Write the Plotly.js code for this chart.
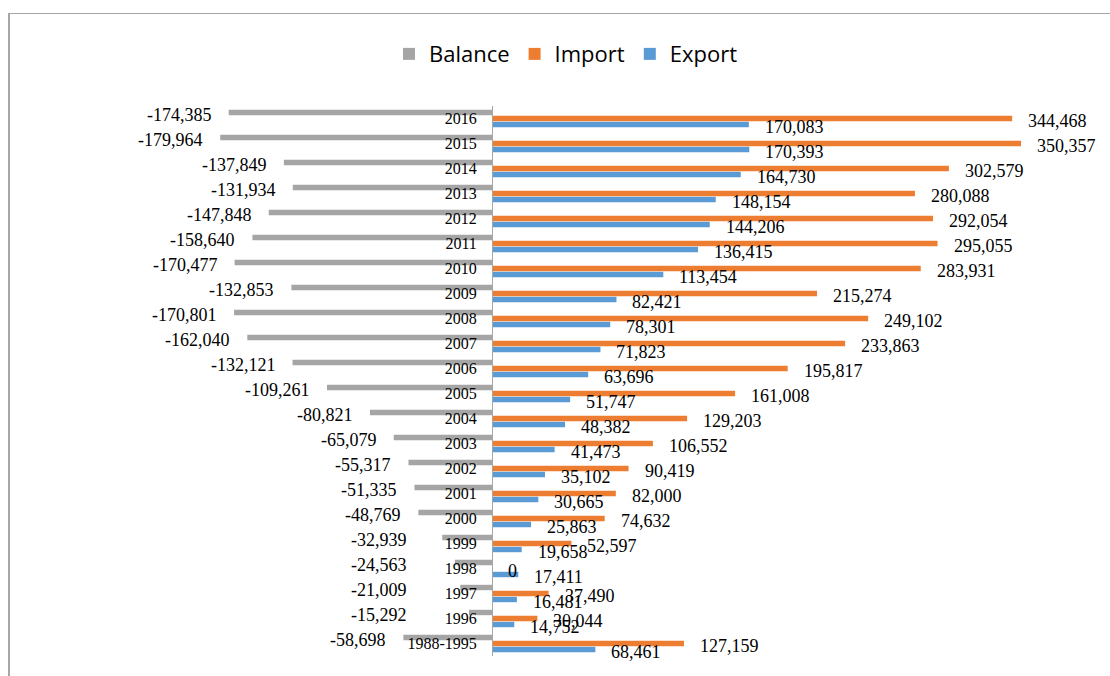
<!DOCTYPE html>
<html><head><meta charset="utf-8">
<script src="https://cdn.plot.ly/plotly-3.0.1.min.js"></script>
<style>
html,body{margin:0;padding:0;background:#fff}
#chart{width:1110px;height:676px;position:absolute;left:0;top:0}
#frame{position:absolute;left:8px;top:13px;right:0;bottom:0;border-top:1px solid #a6a6a6;border-left:2px solid #a6a6a6;pointer-events:none}
</style>
</head><body><div id="chart"></div><div id="frame"></div>
<script>
const categories = ['1988-1995','1996','1997','1998','1999','2000','2001','2002','2003','2004','2005','2006','2007','2008','2009','2010','2011','2012','2013','2014','2015','2016'];
const balance = [-58698,-15292,-21009,-24563,-32939,-48769,-51335,-55317,-65079,-80821,-109261,-132121,-162040,-170801,-132853,-170477,-158640,-147848,-131934,-137849,-179964,-174385];
const imports = [127159,30044,37490,0,52597,74632,82000,90419,106552,129203,161008,195817,233863,249102,215274,283931,295055,292054,280088,302579,350357,344468];
const exports = [68461,14752,16481,17411,19658,25863,30665,35102,41473,48382,51747,63696,71823,78301,82421,113454,136415,144206,148154,164730,170393,170083];

const C_BAL = '#a5a5a5', C_IMP = '#ed7d31', C_EXP = '#5b9bd5';
const xRange = [-200000, 400000];
const fmt = v => v.toLocaleString('en-US');

const traces = [
  {type:'bar', orientation:'h', name:'Export', y:categories, x:exports, marker:{color:C_EXP}},
  {type:'bar', orientation:'h', name:'Import', y:categories, x:imports, marker:{color:C_IMP}},
  {type:'bar', orientation:'h', name:'Balance', y:categories, x:balance, marker:{color:C_BAL}}
];

const labelFont = {family:'Liberation Serif, Times New Roman, serif', size:18, color:'#000'};
const annotations = [];
const LEFT_CLAMP = -45000;
categories.forEach((c, i) => {
  annotations.push({x:Math.min(balance[i], LEFT_CLAMP), y:i, text:fmt(balance[i]), showarrow:false,
    xanchor:'right', yanchor:'middle', xshift:-15, yshift:4, font:labelFont});
  annotations.push({x:imports[i], y:i, text:fmt(imports[i]), showarrow:false,
    xanchor:'left', yanchor:'middle', xshift:14, yshift:-2, font:labelFont});
  annotations.push({x:exports[i], y:i, text:fmt(exports[i]), showarrow:false,
    xanchor:'left', yanchor:'middle', xshift:14, yshift:-8, font:labelFont});
});

const layout = {
  width:1110, height:676,
  margin:{l:190, r:14, t:106, b:20, autoexpand:false},
  paper_bgcolor:'#fff', plot_bgcolor:'#fff',
  barmode:'group', bargap:0.28, bargroupgap:0.1,
  xaxis:{range:xRange, showgrid:false, zeroline:false, showticklabels:false, showline:false, ticks:'', fixedrange:true},
  yaxis:{type:'category', categoryorder:'array', categoryarray:categories, range:[-0.5, categories.length - 0.5],
    anchor:'free', position:(0 - xRange[0]) / (xRange[1] - xRange[0]),
    showline:true, linecolor:'#a6a6a6', linewidth:1, ticks:'', showgrid:false, zeroline:false,
    ticklabelstandoff:12, tickfont:{family:'Liberation Serif, Times New Roman, serif', size:16, color:'#000'}},
  showlegend:true,
  legend:{orientation:'h', traceorder:'reversed', x:0.415, xanchor:'center', yref:'container', y:0.92, yanchor:'middle',
    font:{family:'Open Sans, sans-serif', size:22, color:'#000'}, bgcolor:'rgba(0,0,0,0)'},
  annotations:annotations,
  hovermode:false
};

Plotly.newPlot('chart', traces, layout, {displayModeBar:false, staticPlot:true});
</script>
</body></html>
